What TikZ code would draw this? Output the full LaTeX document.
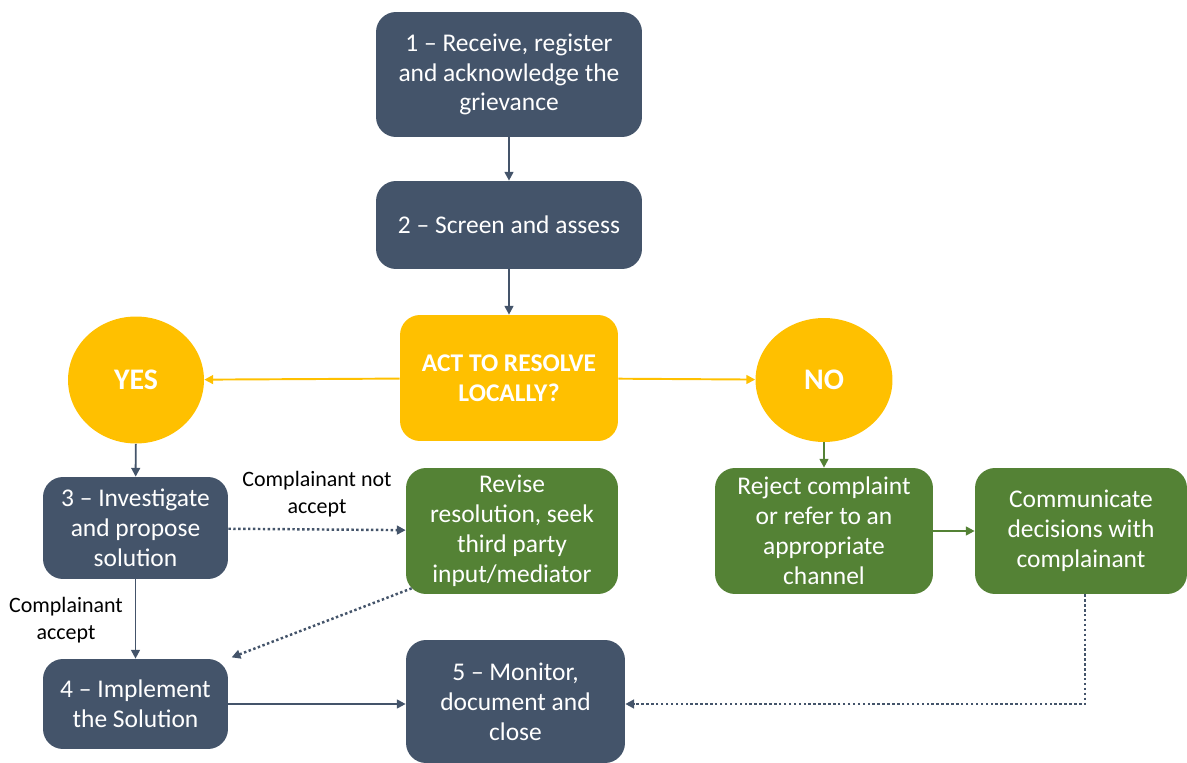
\documentclass[tikz,border=0pt]{standalone}
\usepackage{fontspec}
\setmainfont{Carlito}
\usetikzlibrary{arrows.meta,shapes.geometric}
\definecolor{slate}{HTML}{44546A}
\definecolor{leaf}{HTML}{548235}
\definecolor{amber}{HTML}{FFC000}
\begin{document}
\begin{tikzpicture}[x=0.02cm,y=-0.02cm,
  box/.style={rectangle,rounded corners=0.4cm,fill=slate,text=white,align=center,
    font=\fontsize{14.5}{17}\selectfont,inner sep=2pt},
  greenbox/.style={box,fill=leaf},
  answer/.style={ellipse,fill=amber,text=white,inner sep=0pt,
    font=\fontsize{17}{20}\selectfont\bfseries},
  note/.style={align=center,font=\fontsize{12.5}{15.5}\selectfont},
  link/.style={-{Triangle[length=5pt,width=5pt]},line width=1.1pt,color=slate},
  dotlink/.style={link,line width=1.4pt,dash pattern=on 1.4pt off 1.4pt}]
\useasboundingbox (0,0) rectangle (1187,763);
% main column
\node[box,minimum width=5.32cm,minimum height=2.5cm] (receive) at (509,74.5)
  {1 -- Receive, register\\and acknowledge the\\grievance};
\node[box,minimum width=5.32cm,minimum height=1.76cm] (screen) at (509,225)
  {2 -- Screen and assess};
\node[box,fill=amber,minimum width=4.36cm,minimum height=2.52cm,
  font=\fontsize{14.5}{17}\selectfont\bfseries] (decide) at (509,378)
  {ACT TO RESOLVE\\LOCALLY?};
\node[answer,minimum width=2.72cm,minimum height=2.54cm] (yes) at (136,380) {YES};
\node[answer,minimum width=2.74cm,minimum height=2.48cm] (no) at (824,380) {NO};
% yes branch
\node[box,minimum width=3.7cm,minimum height=2.04cm] (investigate) at (135.5,528)
  {3 -- Investigate\\and propose\\solution};
\node[greenbox,minimum width=4.24cm,minimum height=2.52cm] (revise) at (512,531)
  {Revise\\resolution, seek\\third party\\input/mediator};
\node[box,minimum width=3.7cm,minimum height=1.8cm] (implement) at (135.5,704)
  {4 -- Implement\\the Solution};
\node[box,minimum width=4.38cm,minimum height=2.46cm] (monitor) at (515.5,701.5)
  {5 -- Monitor,\\document and\\close};
% no branch
\node[greenbox,minimum width=4.36cm,minimum height=2.52cm] (reject) at (824,531)
  {Reject complaint\\or refer to an\\appropriate\\channel};
\node[greenbox,minimum width=4.24cm,minimum height=2.52cm] (inform) at (1081,531)
  {Communicate\\decisions with\\complainant};
% connectors
\draw[link] (receive) -- (screen);
\draw[link] (screen) -- (decide);
\draw[link,color=amber] (decide) -- (yes);
\draw[link,color=amber] (decide) -- (no);
\draw[link] (yes) -- (investigate);
\draw[link,color=leaf] (no) -- (reject);
\draw[link,color=leaf] (reject) -- (inform);
\draw[dotlink] (investigate) -- (revise);
\draw[link] (investigate) -- (implement);
\draw[dotlink,shorten >=2pt] ([shift={(0.12cm,0.12cm)}]revise.south west) -- (implement.north east);
\draw[link] (implement.east) -- (implement.east -| monitor.west);
\draw[dotlink] ([xshift=0.08cm]inform.south) |- (implement.east -| monitor.east);
% labels
\node[note] (notaccept) at (317,494) {Complainant not\\accept};
\node[note] (accept) at (66,620) {Complainant\\accept};
\end{tikzpicture}
\end{document}
